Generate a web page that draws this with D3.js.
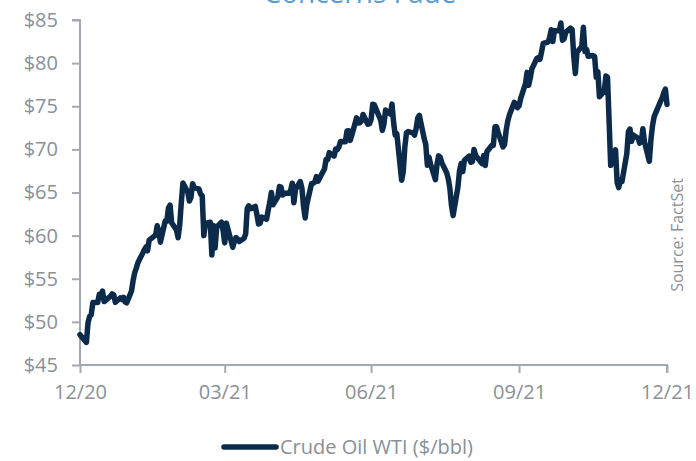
<!DOCTYPE html>
<html>
<head>
<meta charset="utf-8">
<script src="https://cdn.jsdelivr.net/npm/d3@7"></script>
<style>
  body { margin: 0; background: #fff; }
  svg { display: block; }
</style>
</head>
<body>
<div id="chart"></div>
<script>
// WTI daily closes
const dates = ["2020-12-31","2021-01-04","2021-01-05","2021-01-06","2021-01-07","2021-01-08","2021-01-11","2021-01-12","2021-01-13","2021-01-14","2021-01-15","2021-01-19","2021-01-20","2021-01-21","2021-01-22","2021-01-25","2021-01-26","2021-01-27","2021-01-28","2021-01-29",
"2021-02-01","2021-02-02","2021-02-03","2021-02-04","2021-02-05","2021-02-08","2021-02-09","2021-02-10","2021-02-11","2021-02-12","2021-02-16","2021-02-17","2021-02-18","2021-02-19","2021-02-22","2021-02-23","2021-02-24","2021-02-25","2021-02-26",
"2021-03-01","2021-03-02","2021-03-03","2021-03-04","2021-03-05","2021-03-08","2021-03-09","2021-03-10","2021-03-11","2021-03-12","2021-03-15","2021-03-16","2021-03-17","2021-03-18","2021-03-19","2021-03-22","2021-03-23","2021-03-24","2021-03-25","2021-03-26","2021-03-29","2021-03-30","2021-03-31",
"2021-04-01","2021-04-05","2021-04-06","2021-04-07","2021-04-08","2021-04-09","2021-04-12","2021-04-13","2021-04-14","2021-04-15","2021-04-16","2021-04-19","2021-04-20","2021-04-21","2021-04-22","2021-04-23","2021-04-26","2021-04-27","2021-04-28","2021-04-29","2021-04-30",
"2021-05-03","2021-05-04","2021-05-05","2021-05-06","2021-05-07","2021-05-10","2021-05-11","2021-05-12","2021-05-13","2021-05-14","2021-05-17","2021-05-18","2021-05-19","2021-05-20","2021-05-21","2021-05-24","2021-05-25","2021-05-26","2021-05-27","2021-05-28",
"2021-06-01","2021-06-02","2021-06-03","2021-06-04","2021-06-07","2021-06-08","2021-06-09","2021-06-10","2021-06-11","2021-06-14","2021-06-15","2021-06-16","2021-06-17","2021-06-18","2021-06-21","2021-06-22","2021-06-23","2021-06-24","2021-06-25","2021-06-28","2021-06-29","2021-06-30",
"2021-07-01","2021-07-02","2021-07-06","2021-07-07","2021-07-08","2021-07-09","2021-07-12","2021-07-13","2021-07-14","2021-07-15","2021-07-16","2021-07-19","2021-07-20","2021-07-21","2021-07-22","2021-07-23","2021-07-26","2021-07-27","2021-07-28","2021-07-29","2021-07-30",
"2021-08-02","2021-08-03","2021-08-04","2021-08-05","2021-08-06","2021-08-09","2021-08-10","2021-08-11","2021-08-12","2021-08-13","2021-08-16","2021-08-17","2021-08-18","2021-08-19","2021-08-20","2021-08-23","2021-08-24","2021-08-25","2021-08-26","2021-08-27","2021-08-30","2021-08-31",
"2021-09-01","2021-09-02","2021-09-03","2021-09-07","2021-09-08","2021-09-09","2021-09-10","2021-09-13","2021-09-14","2021-09-15","2021-09-16","2021-09-17","2021-09-20","2021-09-21","2021-09-22","2021-09-23","2021-09-24","2021-09-27","2021-09-28","2021-09-29","2021-09-30",
"2021-10-01","2021-10-04","2021-10-05","2021-10-06","2021-10-07","2021-10-08","2021-10-11","2021-10-12","2021-10-13","2021-10-14","2021-10-15","2021-10-18","2021-10-19","2021-10-20","2021-10-21","2021-10-22","2021-10-25","2021-10-26","2021-10-27","2021-10-28","2021-10-29",
"2021-11-01","2021-11-02","2021-11-03","2021-11-04","2021-11-05","2021-11-08","2021-11-09","2021-11-10","2021-11-11","2021-11-12","2021-11-15","2021-11-16","2021-11-17","2021-11-18","2021-11-19","2021-11-22","2021-11-23","2021-11-24","2021-11-26","2021-11-29","2021-11-30",
"2021-12-01","2021-12-02","2021-12-03","2021-12-06","2021-12-07","2021-12-08","2021-12-09","2021-12-10","2021-12-13","2021-12-14","2021-12-15","2021-12-16","2021-12-17","2021-12-20","2021-12-21","2021-12-22","2021-12-23","2021-12-27","2021-12-28","2021-12-29","2021-12-30","2021-12-31"];

const prices = [48.52,47.62,49.93,50.63,50.83,52.24,52.25,53.21,52.91,53.57,52.36,52.98,53.24,53.13,52.27,52.77,52.61,52.85,52.34,52.20,
53.55,54.76,55.69,56.23,56.85,57.97,58.36,58.68,58.24,59.47,60.05,61.14,60.52,59.24,61.70,61.67,63.22,63.53,61.50,
60.64,59.75,61.28,63.83,66.09,65.05,64.01,64.44,66.02,65.61,65.39,64.80,64.60,60.00,61.42,61.55,57.76,61.18,58.56,60.97,61.56,60.55,59.16,
61.45,58.65,59.33,59.77,59.60,59.32,59.70,60.18,63.15,63.46,63.13,63.38,62.44,61.35,61.43,62.14,61.91,62.94,63.86,65.01,63.58,
64.49,65.69,65.63,64.71,64.90,64.92,65.28,66.08,63.82,65.37,66.27,65.49,63.36,62.05,63.58,66.05,66.07,66.21,66.85,66.32,
67.72,68.83,68.81,69.62,69.23,70.05,69.96,70.29,70.91,70.88,72.12,72.15,71.04,71.64,73.66,73.06,73.08,73.30,74.05,72.91,72.98,73.47,
75.23,75.16,73.37,72.20,72.94,74.56,74.10,75.25,73.13,71.65,71.81,66.42,67.42,70.30,71.91,72.07,71.91,71.65,72.39,73.62,73.95,
71.26,70.56,68.15,69.09,68.28,66.48,68.29,69.25,69.09,68.44,67.29,66.59,65.46,63.50,62.32,65.64,67.54,68.36,67.42,68.74,69.21,68.50,
68.59,69.99,69.29,68.35,69.30,68.14,69.72,70.45,70.46,72.61,72.61,71.97,70.29,70.56,72.23,73.30,73.98,75.45,75.29,74.83,75.03,
75.88,77.62,78.93,77.43,78.30,79.35,80.52,80.64,80.44,81.31,82.28,82.44,82.96,83.87,82.50,83.76,83.76,84.65,82.66,82.81,83.57,
84.05,83.91,80.86,78.81,81.27,81.93,84.15,81.34,81.59,80.79,80.88,80.76,78.36,79.01,76.10,76.75,78.50,78.39,68.15,69.95,66.18,
65.57,66.50,66.26,69.49,72.05,72.36,70.94,71.67,71.29,70.73,70.87,72.38,70.86,68.61,71.12,72.76,73.79,75.57,75.98,76.56,76.99,75.21];

const xTickDates = ["2020-12-31","2021-03-31","2021-06-30","2021-09-30","2021-12-31"];
const yTicks = [45,50,55,60,65,70,75,80,85];
const title = "Concerns Fade";
const seriesName = "Crude Oil WTI ($/bbl)";
const source = "Source: FactSet";

const W = 696, H = 461;
const mLeft = 80, mRight = 667, mTop = 20, mBottom = 365;
const axisColor = "#a3a9b0", textColor = "#8a9096", lineColor = "#0c2a4a";
const font = "'Open Sans', sans-serif";

const parse = d3.timeParse("%Y-%m-%d");
const data = dates.map((d, i) => ({date: parse(d), value: prices[i]}));

const svg = d3.select("#chart").append("svg")
  .attr("width", W).attr("height", H);

const x = d3.scaleTime()
  .domain([parse(xTickDates[0]), parse(xTickDates[xTickDates.length - 1])])
  .range([mLeft, mRight]);
const y = d3.scaleLinear().domain([45, 85]).range([mBottom, mTop]);

// title, mostly cropped off the top
svg.append("text")
  .attr("x", 360).attr("y", 3)
  .attr("text-anchor", "middle")
  .style("font-family", font).style("font-size", "28px")
  .style("fill", "#5b9bd5")
  .text(title);

const yAxis = svg.append("g")
  .attr("transform", `translate(${mLeft},0)`)
  .call(d3.axisLeft(y).tickValues(yTicks).tickSize(8).tickPadding(14)
    .tickFormat(d => "$" + d));

const xAxis = svg.append("g")
  .attr("transform", `translate(0,${mBottom})`)
  .call(d3.axisBottom(x).tickValues(xTickDates.map(parse)).tickSize(8).tickPadding(12)
    .tickFormat(d3.timeFormat("%m/%y")));

[yAxis, xAxis].forEach(g => {
  g.select(".domain").attr("stroke", axisColor).attr("stroke-width", 2);
  g.selectAll(".tick line").attr("stroke", axisColor).attr("stroke-width", 2);
  g.selectAll(".tick text")
    .style("font-family", font).style("font-size", "20px")
    .attr("fill", textColor);
});
yAxis.select(".domain").attr("d", `M-8,${mTop}H0V${mBottom}`);
xAxis.select(".domain").attr("d", `M${mLeft},0H${mRight}V8`);

const line = d3.line()
  .x(d => x(d.date))
  .y(d => y(d.value));

svg.append("path")
  .datum(data)
  .attr("d", line)
  .attr("fill", "none")
  .attr("stroke", lineColor)
  .attr("stroke-width", 5.5)
  .attr("stroke-linejoin", "round")
  .attr("stroke-linecap", "round");

// source note
svg.append("text")
  .attr("transform", "translate(683,235) rotate(-90)")
  .attr("text-anchor", "middle")
  .style("font-family", font).style("font-size", "16px")
  .attr("fill", textColor)
  .text(source);

// legend
const lg = svg.append("g").attr("transform", "translate(0,447)");
lg.append("line")
  .attr("x1", 224).attr("x2", 276).attr("y1", 0).attr("y2", 0)
  .attr("stroke", lineColor).attr("stroke-width", 5.5).attr("stroke-linecap", "round");
lg.append("text")
  .attr("x", 280).attr("y", 7)
  .style("font-family", font).style("font-size", "20px")
  .attr("fill", textColor)
  .text(seriesName);
</script>
</body>
</html>
